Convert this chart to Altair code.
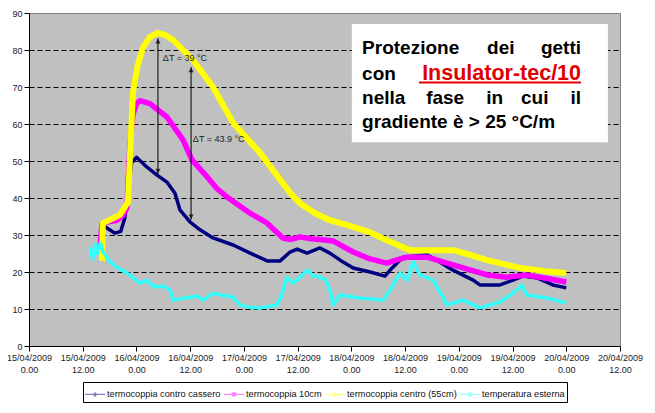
import altair as alt
import pandas as pd

SERIES = ["termocoppia contro cassero", "termocoppia 10cm",
          "termocoppia centro (55cm)", "temperatura esterna"]
COLORS = ["#000080", "#ff00ff", "#ffff00", "#33ffff"]
WIDTHS = [3.5, 5.5, 6, 3.5]

# hours since 15/04/2009 0.00
navy_h = [16.3, 17.5, 19.2, 20.5, 21.4, 22.2, 22.9, 24.0, 26.3, 28.6, 30.8, 32.6, 33.7, 36.0, 38.2, 41.1,
          45.6, 49.4, 53.2, 56.1, 58.3, 59.9, 62.1, 65.0, 67.2, 69.5, 72.4, 76.2, 79.5, 81.1, 83.5,
          88.9, 91.1, 94.7, 99.2, 100.7, 105.2, 108.1, 110.3, 113.5, 117.0, 120.0]
navy_v = [32.7, 31.8, 30.5, 31.0, 34.6, 42.0, 49.5, 51.0, 48.4, 46.2, 44.3, 41.3, 36.8, 33.5, 31.4, 29.2,
          27.3, 25.1, 23.0, 23.0, 25.4, 26.2, 25.1, 26.5, 25.1, 23.2, 21.1, 20.0, 18.9, 21.1, 24.0,
          24.6, 23.2, 20.5, 17.8, 16.5, 16.5, 17.8, 18.9, 18.4, 16.5, 15.7]

mag_h = [15.9, 16.3, 17.5, 19.6, 21.0, 21.9, 22.2, 22.6, 23.2, 24.0, 24.8, 27.0, 30.8, 34.4, 36.4, 39.8,
         42.0, 44.2, 49.4, 53.2, 56.7, 58.5, 60.5, 63.0, 65.0, 67.9, 72.4, 76.0, 79.9, 82.0, 84.4,
         88.9, 94.7, 102.3, 106.8, 111.2, 115.5, 120.0]
mag_v = [27.0, 33.0, 33.5, 34.0, 35.3, 37.5, 46.0, 55.0, 62.5, 65.5, 66.3, 65.5, 61.9, 55.7, 50.3, 45.7,
         42.5, 40.3, 35.9, 33.2, 29.2, 28.8, 29.5, 29.0, 28.8, 28.4, 25.4, 23.6, 22.4, 23.2, 24.0,
         24.0, 21.9, 19.2, 18.6, 19.2, 18.3, 17.3]

yel_h = [16.3, 16.5, 20.3, 22.1, 22.7, 23.2, 24.3, 25.5, 27.0, 28.8, 30.5, 32.2, 36.6, 41.1, 45.6,
         51.6, 58.3, 60.5, 64.0, 67.2, 72.4, 76.0, 79.9, 85.1, 90.0, 94.7, 98.0, 102.3, 109.7, 115.0, 120.0]
yel_v = [23.0, 33.2, 35.4, 38.9, 55.0, 68.4, 76.0, 80.8, 83.5, 84.6, 84.0, 82.7, 77.3, 70.0, 60.3,
         52.2, 41.4, 38.6, 35.8, 34.0, 32.2, 30.8, 28.6, 25.9, 25.9, 25.9, 24.8, 23.2, 21.1, 20.3, 19.7]

cy_h = [13.6, 14.2, 14.8, 15.3, 15.9, 16.5, 18.1, 20.0, 21.9, 23.5, 24.8, 26.4, 27.5, 28.6, 30.0, 31.5,
        32.2, 34.0, 36.0, 37.5, 38.9, 41.1, 43.0, 45.6, 47.1, 49.0, 51.6, 55.4, 56.5, 57.6, 59.0, 60.5,
        62.1, 63.5, 65.0, 66.3, 67.2, 67.9, 69.5, 73.9, 79.1, 80.6, 82.9, 84.4, 85.8, 87.3, 90.2, 92.5,
        93.4, 96.9, 100.7, 105.2, 108.1, 110.1, 111.2, 115.7, 120.0]
cy_v = [26.8, 23.5, 27.5, 25.0, 27.8, 25.5, 22.7, 21.0, 19.7, 18.2, 17.0, 17.8, 16.3, 16.0, 16.2, 15.1,
        12.4, 12.8, 13.2, 13.5, 12.4, 14.3, 13.8, 13.2, 11.1, 10.5, 10.3, 11.1, 14.0, 18.6, 17.0, 18.5,
        20.5, 19.0, 18.6, 17.8, 15.1, 11.1, 13.8, 13.0, 12.4, 15.1, 19.7, 17.8, 22.7, 19.2, 17.8, 13.2,
        11.1, 12.4, 10.3, 11.9, 14.3, 16.5, 13.8, 13.0, 11.6]

X_TICKS = list(range(0, 133, 12))
Y_TICKS = list(range(0, 91, 10))

# annotations
arrow_x = [28.8, 36.2]
arrow_top = [83.2, 75.4]
arrow_bot = [46.5, 34.1]
dt_text = ["ΔT = 39 °C", "ΔT = 43.9 °C"]
dt_x = [29.9, 36.6]
dt_y = [77.8, 55.9]

box_x = [72.1, 129.3]
box_y = [55.1, 87.0]

words = ["Protezione", "dei", "getti", "con", "Insulator-tec/10", "nella", "fase", "in", "cui", "il",
         "gradiente è > 25 °C/m"]
word_x = [74.4, 102.3, 123.3, 74.4, 123.3, 74.4, 88.7, 102.1, 109.9, 123.3, 74.4]
word_y = [78.8, 78.8, 78.8, 71.9, 71.9, 65.3, 65.3, 65.3, 65.3, 65.3, 58.8]
word_align = ["left", "left", "right", "left", "right", "left", "left", "left", "left", "right", "left"]
word_size = [19, 19, 19, 19, 21.5, 19, 19, 19, 19, 19, 19]
word_color = ["#000000"] * 4 + ["#e00000"] + ["#000000"] * 6
underline_x = [87.1, 123.3]
underline_y = 71.2

SHAPES = [
    "M-1,-0.06L1,-0.06L1,0.06L-1,0.06Z M0,-0.25L0.25,0L0,0.25L-0.25,0Z",
    "M-1,-0.06L1,-0.06L1,0.06L-1,0.06Z M-0.22,-0.22L0.22,-0.22L0.22,0.22L-0.22,0.22Z",
    "M-1,-0.06L1,-0.06L1,0.06L-1,0.06Z M0,-0.28L0.28,0.22L-0.28,0.22Z",
    "M-1,-0.06L1,-0.06L1,0.06L-1,0.06Z M-0.25,-0.19L-0.19,-0.25L0.25,0.19L0.19,0.25Z "
    "M0.19,-0.25L0.25,-0.19L-0.19,0.25L-0.25,0.19Z M-0.05,-0.28L0.05,-0.28L0.05,0.28L-0.05,0.28Z",
]

frames = []
for name, hs, vs in zip(SERIES, [navy_h, mag_h, yel_h, cy_h], [navy_v, mag_v, yel_v, cy_v]):
    frames.append(pd.DataFrame({"ore": hs, "temp": vs, "serie": name}))
df = pd.concat(frames, ignore_index=True)

x_axis = alt.Axis(values=X_TICKS, tickCount=30, title=None, grid=False, labelAngle=0,
                  labelExpr="[(15 + floor(datum.value/24)) + '/04/2009', (datum.value % 24 == 0) ? '0.00' : '12.00']",
                  labelFontSize=9, labelLineHeight=12, labelColor="#222222", labelPadding=2,
                  labelOverlap=False, labelFlush=False,
                  tickSize=5, tickColor="#000000", domainColor="#000000", labelFont="Liberation Sans")
y_axis = alt.Axis(values=Y_TICKS, tickCount=30, title=None, grid=True, gridColor="#000000", gridDash=[5, 3],
                  gridOpacity={"condition": {"test": "datum.value == 0 || datum.value == 90", "value": 0}, "value": 1},
                  labelFontSize=9, labelColor="#222222", tickSize=5, tickColor="#000000", labelOverlap=False,
                  domainColor="#000000", labelFont="Liberation Sans", labelPadding=2)

X = alt.X("ore:Q", scale=alt.Scale(domain=[0, 132], nice=False), axis=x_axis)
Y = alt.Y("temp:Q", scale=alt.Scale(domain=[0, 90], nice=False), axis=y_axis)

base = alt.Chart(df)
layers = []
for name, col, w in zip(SERIES, COLORS, WIDTHS):
    layers.append(
        base.transform_filter(alt.datum.serie == name)
        .mark_line(color=col, strokeWidth=w, interpolate="linear", strokeJoin="round")
        .encode(x=X, y=Y)
    )

legend_layer = base.transform_filter("false").mark_point(filled=True, size=400, strokeWidth=0).encode(
    x=alt.X("ore:Q"), y=alt.Y("temp:Q"),
    fill=alt.Fill("serie:N", scale=alt.Scale(domain=SERIES, range=COLORS),
                  legend=alt.Legend(title=None, orient="none", legendX=54, legendY=369, direction="horizontal",
                                    strokeColor="#000000", fillColor="#ffffff", padding=2,
                                    labelFontSize=9.2, labelFont="Liberation Sans", labelColor="#111111",
                                    symbolSize=400, symbolStrokeWidth=0, columnPadding=3, labelOffset=2,
                                    labelLimit=300)),
    shape=alt.Shape("serie:N", scale=alt.Scale(domain=SERIES, range=SHAPES), legend=alt.Legend(title=None)),
)

arrows_df = pd.DataFrame({"x": arrow_x, "top": arrow_top, "bot": arrow_bot})
arrow_rules = alt.Chart(arrows_df).mark_rule(color="#000000", strokeWidth=1).encode(
    x="x:Q", y="top:Q", y2="bot:Q")
heads_up = alt.Chart(arrows_df).mark_point(shape="triangle-up", filled=True, color="#000000", size=28,
                                           yOffset=3, strokeWidth=0).encode(x="x:Q", y="top:Q")
heads_dn = alt.Chart(arrows_df).mark_point(shape="triangle-down", filled=True, color="#000000", size=28,
                                           yOffset=-3, strokeWidth=0).encode(x="x:Q", y="bot:Q")
dt_df = pd.DataFrame({"x": dt_x, "y": dt_y, "t": dt_text})
dt_labels = alt.Chart(dt_df).mark_text(align="left", baseline="middle", fontSize=9, color="#222222",
                                       font="Liberation Sans").encode(x="x:Q", y="y:Q", text="t:N")

box_df = pd.DataFrame({"x": [box_x[0]], "x2": [box_x[1]], "y": [box_y[0]], "y2": [box_y[1]]})
box = alt.Chart(box_df).mark_rect(fill="#ffffff").encode(x="x:Q", x2="x2:Q", y="y:Q", y2="y2:Q")

words_df = pd.DataFrame({"w": words, "x": word_x, "y": word_y, "a": word_align,
                         "c": word_color, "s": word_size})
word_layers = []
for al in ["left", "right"]:
    word_layers.append(
        alt.Chart(words_df).transform_filter(alt.datum.a == al)
        .mark_text(align=al, baseline="alphabetic", fontWeight="bold", font="Liberation Sans")
        .encode(x="x:Q", y="y:Q", text="w:N", color=alt.Color("c:N", scale=None),
                size=alt.Size("s:Q", scale=None))
    )
ul_df = pd.DataFrame({"x": [underline_x[0]], "x2": [underline_x[1]], "y": [underline_y]})
underline = alt.Chart(ul_df).mark_rule(color="#e00000", strokeWidth=2).encode(x="x:Q", x2="x2:Q", y="y:Q")

chart = alt.layer(
    *layers, legend_layer, arrow_rules, heads_up, heads_dn, dt_labels, box, *word_layers, underline
).properties(
    width=591, height=333,
    autosize=alt.AutoSizeParams(type="none"),
    padding={"left": 21, "top": 5, "right": 27, "bottom": 59},
    background="#ffffff",
).configure_view(
    fill="#c0c0c0", stroke="#808080", strokeWidth=1
)

chart.save("out.html", embed_options={"renderer": "svg", "actions": False})
